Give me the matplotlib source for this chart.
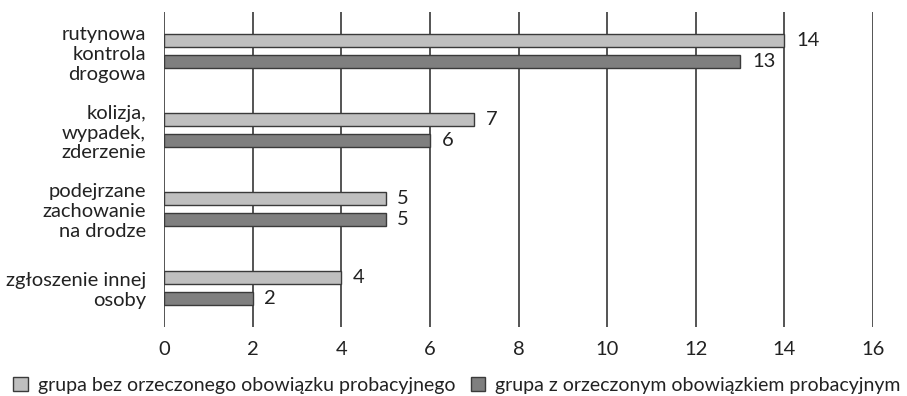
import matplotlib
matplotlib.use("Agg")
import matplotlib.pyplot as plt
import numpy as np

plt.rcParams['font.family'] = ['Lato', 'DejaVu Sans']

categories = [
    "rutynowa\nkontrola\ndrogowa",
    "kolizja,\nwypadek,\nzderzenie",
    "podejrzane\nzachowanie\nna drodze",
    "zgłoszenie innej\nosoby",
]
series_names = [
    "grupa bez orzeczonego obowiązku probacyjnego",
    "grupa z orzeczonym obowiązkiem probacyjnym",
]
without_probation = [14, 7, 5, 4]
with_probation = [13, 6, 5, 2]
x_ticks = [0, 2, 4, 6, 8, 10, 12, 14, 16]

colors = ["#bfbfbf", "#7f7f7f"]
edge = "#3a3a3a"
txt = "#222222"
fs = 14.5

fig = plt.figure(figsize=(9.07, 3.96), dpi=100)
ax = fig.add_axes([164 / 907, 1 - 327 / 396, 709 / 907, 315 / 396])

y = np.arange(len(categories))
h = 0.165
off = 0.133
b1 = ax.barh(y - off, without_probation, height=h, color=colors[0],
             edgecolor=edge, linewidth=1.0, label=series_names[0], zorder=3)
b2 = ax.barh(y + off, with_probation, height=h, color=colors[1],
             edgecolor=edge, linewidth=1.0, label=series_names[1], zorder=3)

for bars in (b1, b2):
    ax.bar_label(bars, padding=8.5, fontsize=fs, color=txt)

ax.set_xlim(0, 16)
ax.set_ylim(len(categories) - 0.5, -0.5)
ax.set_xticks(x_ticks)
ax.set_xticklabels([str(t) for t in x_ticks])
ax.set_yticks(y)
ax.set_yticklabels(categories, fontsize=fs, color=txt, linespacing=1.2)
ax.tick_params(axis="x", length=0, pad=10, labelsize=fs, labelcolor=txt)
ax.tick_params(axis="y", length=0, pad=13)

for s in ax.spines.values():
    s.set_visible(False)
ax.xaxis.grid(True, color="#262626", linewidth=1.1, zorder=0)
ax.set_axisbelow(True)

fig.legend(handles=[b1, b2], loc="center",
           bbox_to_anchor=(457 / 907, 1 - 385 / 396),
           ncol=2, frameon=False, fontsize=14.0, handlelength=0.75,
           handleheight=0.75, handletextpad=0.5, columnspacing=0.8,
           borderpad=0.0, borderaxespad=0.0, labelcolor=txt)

fig.savefig("out.png", dpi=100)
